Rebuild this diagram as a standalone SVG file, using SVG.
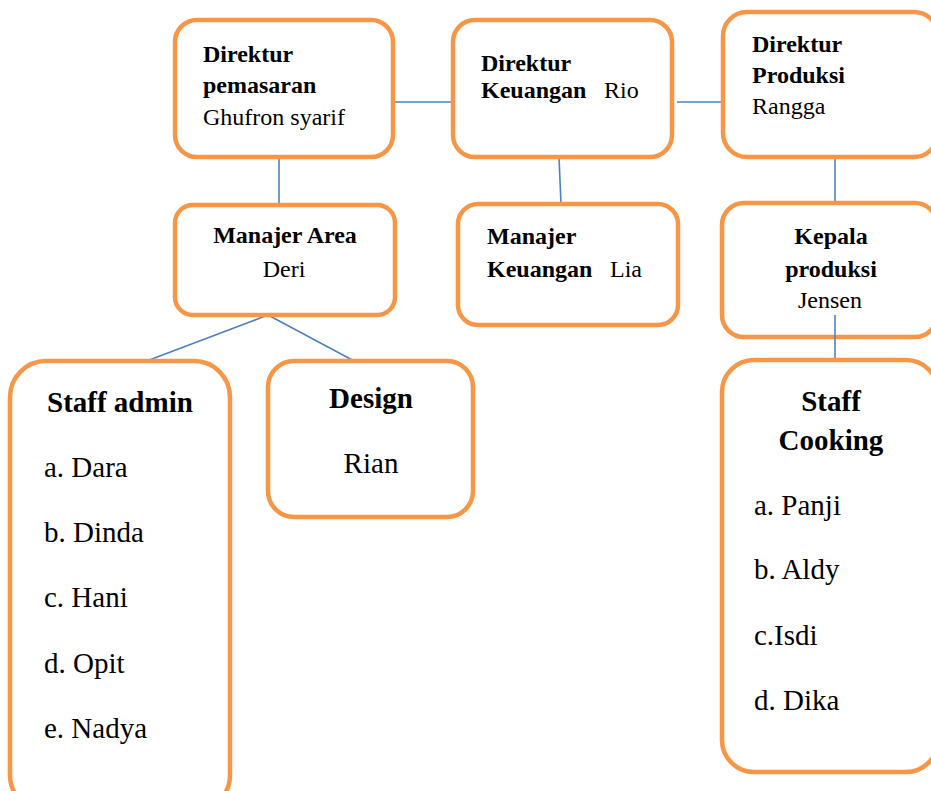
<svg xmlns="http://www.w3.org/2000/svg" width="931" height="791" viewBox="0 0 931 791">
<style>
.box{fill:#fff;stroke:#F79646;stroke-width:4.5}
.ln{stroke:#4F81BD;stroke-width:1.6;fill:none}
text{font-family:"Liberation Serif","Times New Roman",serif;fill:#000}
.s{font-size:24px}
.b{font-weight:bold}
.l{font-size:29px}
.c{text-anchor:middle}
</style>
<rect width="931" height="791" fill="#fff"/>
<g id="connectors">
<line class="ln" x1="393" y1="102" x2="453" y2="102"/>
<line class="ln" x1="677" y1="102" x2="723" y2="102"/>
<line class="ln" x1="279" y1="157" x2="279" y2="205"/>
<line class="ln" x1="559" y1="157" x2="561" y2="204"/>
<line class="ln" x1="835" y1="157" x2="835" y2="214"/>
<line class="ln" x1="268" y1="315" x2="144" y2="362"/>
<line class="ln" x1="268" y1="315" x2="356" y2="362"/>
</g>
<g id="dir-pemasaran">
<rect class="box" x="175" y="20" width="218" height="137" rx="22"/>
<text class="s b" x="203" y="62">Direktur</text>
<text class="s b" x="203" y="93">pemasaran</text>
<text class="s" x="203" y="125">Ghufron syarif</text>
</g>
<g id="dir-keuangan">
<rect class="box" x="453" y="20" width="219" height="137" rx="22"/>
<text class="s b" x="481" y="71">Direktur</text>
<text class="s b" x="481" y="98">Keuangan</text>
<text class="s" x="604" y="98">Rio</text>
</g>
<g id="dir-produksi">
<rect class="box" x="723" y="12" width="215" height="145" rx="24"/>
<text class="s b" x="752" y="52">Direktur</text>
<text class="s b" x="752" y="83">Produksi</text>
<text class="s" x="752" y="114">Rangga</text>
</g>
<g id="manajer-area">
<rect class="box" x="175" y="205" width="220" height="110" rx="18"/>
<text class="s b c" x="285" y="243">Manajer Area</text>
<text class="s c" x="284" y="277">Deri</text>
</g>
<g id="manajer-keuangan">
<rect class="box" x="458" y="204" width="220" height="121" rx="20"/>
<text class="s b" x="487" y="244">Manajer</text>
<text class="s b" x="487" y="277">Keuangan</text>
<text class="s" x="610" y="277">Lia</text>
</g>
<g id="kepala-produksi">
<rect class="box" x="722" y="203" width="215" height="134" rx="22"/>
<text class="s b c" x="831" y="244">Kepala</text>
<text class="s b c" x="831" y="277">produksi</text>
<text class="s c" x="830" y="308">Jensen</text>
</g>
<line class="ln" x1="835" y1="315" x2="835" y2="362"/>
<g id="staff-admin">
<rect class="box" x="10" y="361" width="220" height="450" rx="36"/>
<text class="l b" x="47" y="412">Staff admin</text>
<text class="l" x="44" y="477">a. Dara</text>
<text class="l" x="44" y="542">b. Dinda</text>
<text class="l" x="44" y="607">c. Hani</text>
<text class="l" x="44" y="673">d. Opit</text>
<text class="l" x="44" y="738">e. Nadya</text>
</g>
<g id="design">
<rect class="box" x="268" y="361" width="205" height="156" rx="26"/>
<text class="l b c" x="371" y="408">Design</text>
<text class="l c" x="371" y="473">Rian</text>
</g>
<g id="staff-cooking">
<rect class="box" x="722" y="360" width="216" height="412" rx="32"/>
<text class="l b c" x="831" y="411">Staff</text>
<text class="l b c" x="831" y="450">Cooking</text>
<text class="l" x="754" y="515">a. Panji</text>
<text class="l" x="754" y="579">b. Aldy</text>
<text class="l" x="754" y="645">c.Isdi</text>
<text class="l" x="754" y="710">d. Dika</text>
</g>
</svg>
